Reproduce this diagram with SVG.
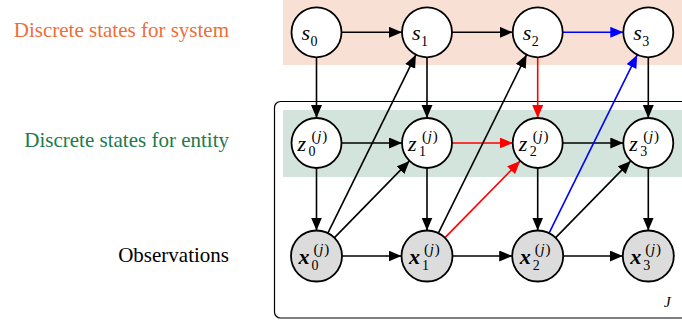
<svg xmlns="http://www.w3.org/2000/svg" width="682" height="326" viewBox="0 0 682 326">
<style>
.lbl{font-family:"Liberation Serif","Times New Roman",serif;font-size:21px;text-anchor:end}
.node{stroke:#000;stroke-width:1.8}
.s{fill:#fff}
.o{fill:#dcdcdc}
.m{font-family:"Liberation Serif","Times New Roman",serif;font-style:italic;font-size:22px;fill:#000}
.sc{font-family:"Liberation Serif","Times New Roman",serif;font-size:14px;fill:#000}
.sp{font-family:"Liberation Serif","Times New Roman",serif;font-size:15px;fill:#000;letter-spacing:0.8px}
.b{font-weight:bold}
.e{fill:none;stroke-width:1.6}
.k{stroke:#000;marker-end:url(#ak)}
.r{stroke:#f00;marker-end:url(#ar)}
.bl{stroke:#00f;marker-end:url(#ab)}
</style>
<defs>
<marker id="ak" markerUnits="userSpaceOnUse" markerWidth="14" markerHeight="12" refX="13" refY="5.5" orient="auto"><path d="M0,0 L13,5.5 L0,11 z" fill="#000"/></marker>
<marker id="ar" markerUnits="userSpaceOnUse" markerWidth="14" markerHeight="12" refX="13" refY="5.5" orient="auto"><path d="M0,0 L13,5.5 L0,11 z" fill="#f00"/></marker>
<marker id="ab" markerUnits="userSpaceOnUse" markerWidth="14" markerHeight="12" refX="13" refY="5.5" orient="auto"><path d="M0,0 L13,5.5 L0,11 z" fill="#00f"/></marker>
</defs>
<rect x="283" y="0" width="399" height="65" fill="#f9e0d5"/>
<rect x="274.5" y="101.5" width="460" height="216.5" rx="6" fill="none" stroke="#000" stroke-width="1.2"/>
<rect x="283" y="110" width="399" height="67" fill="#d3e4dc"/>
<text class="lbl" x="229" y="37" fill="#ef6d39">Discrete states for system</text>
<text class="lbl" x="229" y="147" fill="#217a4b">Discrete states for entity</text>
<text class="lbl" x="229" y="262" fill="#000">Observations</text>
<text x="664" y="306.5" font-family="Liberation Serif,serif" font-style="italic" font-size="15">J</text>
<g id="connectors">
<line class="e k" x1="341.5" y1="32.3" x2="402" y2="32.3"/>
<line class="e k" x1="452" y1="32.3" x2="512.7" y2="32.3"/>
<line class="e bl" x1="562.7" y1="32.3" x2="623.3" y2="32.3"/>
<line class="e k" x1="316.5" y1="57.3" x2="316.5" y2="118"/>
<line class="e k" x1="427" y1="57.3" x2="427" y2="118"/>
<line class="e r" x1="537.7" y1="57.3" x2="537.7" y2="118"/>
<line class="e k" x1="648.3" y1="57.3" x2="648.3" y2="118"/>
<line class="e k" x1="341.5" y1="143" x2="402" y2="143"/>
<line class="e r" x1="452" y1="143" x2="512.7" y2="143"/>
<line class="e k" x1="562.7" y1="143" x2="623.3" y2="143"/>
<line class="e k" x1="316.5" y1="168" x2="316.5" y2="230.5"/>
<line class="e k" x1="427" y1="168" x2="427" y2="230.5"/>
<line class="e k" x1="537.7" y1="168" x2="537.7" y2="230.5"/>
<line class="e k" x1="648.3" y1="168" x2="648.3" y2="230.5"/>
<line class="e k" x1="342" y1="256" x2="401.5" y2="256"/>
<line class="e k" x1="452.5" y1="256" x2="512.2" y2="256"/>
<line class="e k" x1="563.2" y1="256" x2="622.8" y2="256"/>
<line class="e k" x1="327.6" y1="233.6" x2="415.9" y2="54.7"/>
<line class="e k" x1="334" y1="238.1" x2="409.5" y2="160.9"/>
<line class="e k" x1="438.1" y1="233.6" x2="526.6" y2="54.7"/>
<line class="e r" x1="444.5" y1="238.1" x2="520.2" y2="160.9"/>
<line class="e bl" x1="548.8" y1="233.6" x2="637.2" y2="54.9"/>
<line class="e k" x1="555.2" y1="238.1" x2="630.8" y2="160.9"/>
</g>
<g id="s0"><circle class="node s" cx="316.5" cy="32.3" r="25"/><text class="m" x="301.5" y="40">s</text><text class="sc" x="310.5" y="45.5">0</text></g>
<g id="s1"><circle class="node s" cx="427" cy="32.3" r="25"/><text class="m" x="412" y="40">s</text><text class="sc" x="421" y="45.5">1</text></g>
<g id="s2"><circle class="node s" cx="537.7" cy="32.3" r="25"/><text class="m" x="522.7" y="40">s</text><text class="sc" x="531.7" y="45.5">2</text></g>
<g id="s3"><circle class="node s" cx="648.3" cy="32.3" r="25"/><text class="m" x="633.3" y="40">s</text><text class="sc" x="642.3" y="45.5">3</text></g>
<g id="z0"><circle class="node s" cx="316.5" cy="143" r="25"/><text class="m" x="297.5" y="151">z</text><text class="sp" x="311.5" y="141">(<tspan font-style="italic">j</tspan>)</text><text class="sc" x="308.5" y="156">0</text></g>
<g id="z1"><circle class="node s" cx="427" cy="143" r="25"/><text class="m" x="408" y="151">z</text><text class="sp" x="422" y="141">(<tspan font-style="italic">j</tspan>)</text><text class="sc" x="419" y="156">1</text></g>
<g id="z2"><circle class="node s" cx="537.7" cy="143" r="25"/><text class="m" x="518.7" y="151">z</text><text class="sp" x="532.7" y="141">(<tspan font-style="italic">j</tspan>)</text><text class="sc" x="529.7" y="156">2</text></g>
<g id="z3"><circle class="node s" cx="648.3" cy="143" r="25"/><text class="m" x="629.3" y="151">z</text><text class="sp" x="643.3" y="141">(<tspan font-style="italic">j</tspan>)</text><text class="sc" x="640.3" y="156">3</text></g>
<g id="x0"><circle class="node o" cx="316.5" cy="256" r="25.5"/><text class="m b" x="298.5" y="264">x</text><text class="sp" x="313.5" y="254">(<tspan font-style="italic">j</tspan>)</text><text class="sc" x="311.5" y="269.5">0</text></g>
<g id="x1"><circle class="node o" cx="427" cy="256" r="25.5"/><text class="m b" x="409" y="264">x</text><text class="sp" x="424" y="254">(<tspan font-style="italic">j</tspan>)</text><text class="sc" x="422" y="269.5">1</text></g>
<g id="x2"><circle class="node o" cx="537.7" cy="256" r="25.5"/><text class="m b" x="519.7" y="264">x</text><text class="sp" x="534.7" y="254">(<tspan font-style="italic">j</tspan>)</text><text class="sc" x="532.7" y="269.5">2</text></g>
<g id="x3"><circle class="node o" cx="648.3" cy="256" r="25.5"/><text class="m b" x="630.3" y="264">x</text><text class="sp" x="645.3" y="254">(<tspan font-style="italic">j</tspan>)</text><text class="sc" x="643.3" y="269.5">3</text></g>
</svg>
